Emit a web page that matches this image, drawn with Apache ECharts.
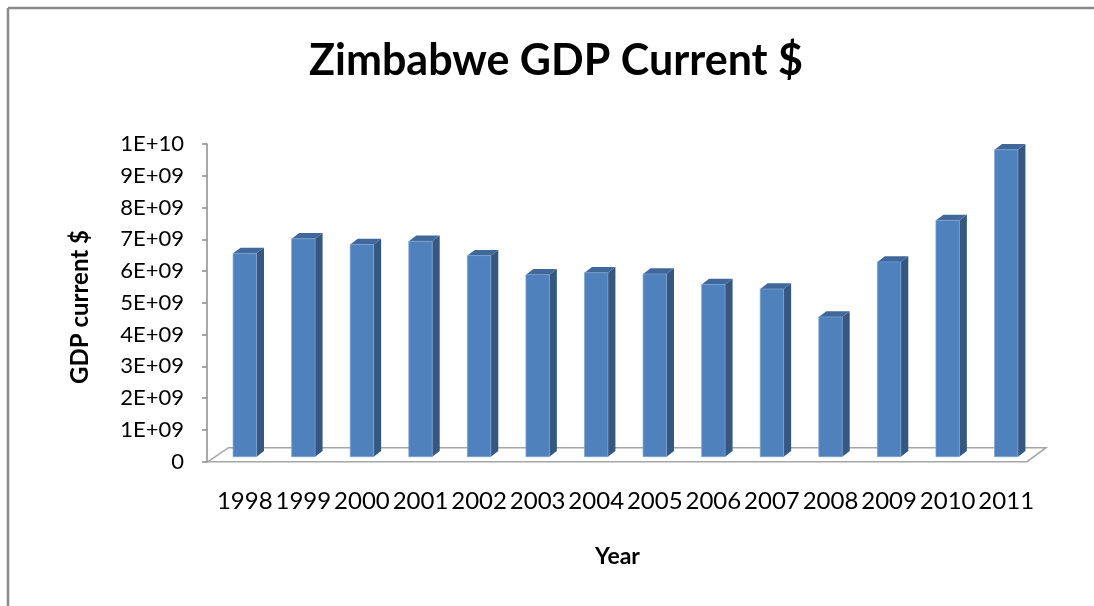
<!DOCTYPE html>
<html>
<head>
<meta charset="utf-8">
<script src="https://cdn.jsdelivr.net/npm/echarts@6/dist/echarts.min.js"></script>
<style>
  html, body { margin: 0; padding: 0; background: #fff; }
  #chart { width: 1094px; height: 606px; }
</style>
</head>
<body>
<div id="chart"></div>
<script>
// Zimbabwe GDP, current US$, 1998-2011
const years = ['1998', '1999', '2000', '2001', '2002', '2003', '2004',
               '2005', '2006', '2007', '2008', '2009', '2010', '2011'];
const gdp = [6.40e9, 6.86e9, 6.68e9, 6.78e9, 6.33e9, 5.73e9, 5.79e9,
             5.75e9, 5.42e9, 5.28e9, 4.40e9, 6.13e9, 7.44e9, 9.66e9];
const yTickLabels = ['0', '1E+09', '2E+09', '3E+09', '4E+09', '5E+09',
                     '6E+09', '7E+09', '8E+09', '9E+09', '1E+10'];

const FONT = 'Lato, "Open Sans", sans-serif';
const FRONT = '#4f81bd';
const SIDE = '#36577f';
const TOP = '#40689a';
// depth of each bar (pseudo 3D extrusion), px
const DX = 7.5, DY = 5.7;

const chart = echarts.init(document.getElementById('chart'), null, { renderer: 'canvas' });

function renderBar(params, api) {
  const i = api.value(0);
  const v = api.value(1);
  const top = api.coord([i, v]);
  const base = api.coord([i, 0]);
  const w = api.size([1, 0])[0] * 0.4;
  const x0 = top[0] - w / 2;
  const x1 = x0 + w;
  const yt = top[1];
  const yb = base[1];
  return {
    type: 'group',
    children: [
      {
        type: 'polygon',
        shape: { points: [[x1, yt], [x1 + DX, yt - DY], [x1 + DX, yb - DY], [x1, yb]] },
        style: { fill: SIDE }
      },
      {
        type: 'polygon',
        shape: { points: [[x0, yt], [x0 + DX, yt - DY], [x1 + DX, yt - DY], [x1, yt]] },
        style: { fill: TOP }
      },
      {
        type: 'rect',
        shape: { x: x0, y: yt, width: w, height: yb - yt },
        style: { fill: FRONT, stroke: '#7ea3d0', lineWidth: 0.7 }
      }
    ]
  };
}

const option = {
  backgroundColor: '#ffffff',
  animation: false,
  grid: [
    // front plane: value axis
    { left: 207, right: 67, top: 144, bottom: 144.3 },
    // plane the bars stand in, set back into the floor
    { left: 215.5, right: 58.5, top: 139, bottom: 149.3 }
  ],
  xAxis: [
    {
      gridIndex: 0, type: 'category', data: years,
      axisLine: { show: false }, axisTick: { show: false },
      axisLabel: { show: false }, splitLine: { show: false }
    },
    {
      gridIndex: 1, type: 'category', data: years,
      axisLine: { show: false }, axisTick: { show: false },
      axisLabel: {
        color: '#000', fontFamily: FONT, fontSize: 24, margin: 33,
        interval: 0
      },
      splitLine: { show: false }
    }
  ],
  yAxis: [
    {
      gridIndex: 0, type: 'value', min: 0, max: 1e10, interval: 1e9,
      axisLine: { show: true, lineStyle: { color: '#8c8c8c', width: 1.5 } },
      axisTick: { show: true, length: 5, lineStyle: { color: '#8c8c8c', width: 1.5 } },
      splitLine: { show: false },
      axisLabel: {
        color: '#000', fontFamily: FONT, fontSize: 22, margin: 23,
        formatter: (val) => yTickLabels[Math.round(val / 1e9)]
      }
    },
    {
      gridIndex: 1, type: 'value', min: 0, max: 1e10, interval: 1e9,
      show: false
    }
  ],
  graphic: [
    // outer chart frame
    { type: 'line', z: 0, shape: { x1: 8, y1: 8, x2: 1094, y2: 8 },
      style: { stroke: '#8a8a8a', lineWidth: 2.5 } },
    { type: 'line', z: 0, shape: { x1: 8, y1: 8, x2: 8, y2: 606 },
      style: { stroke: '#8a8a8a', lineWidth: 2.5 } },
    // floor of the plot
    { type: 'polygon', z: 0,
      shape: { points: [[208, 461.7], [228.5, 447.7], [1046, 447.7], [1027, 461.7]] },
      style: { fill: '#ffffff', stroke: '#a6a6a6', lineWidth: 1.5 } },
    // title
    { type: 'text', z: 5, x: 556, y: 61,
      style: { text: 'Zimbabwe GDP Current $', fill: '#000', font: 'bold 43px ' + FONT,
               align: 'center', verticalAlign: 'middle' } },
    // axis titles
    { type: 'text', z: 5, x: 80, y: 307, rotation: Math.PI / 2,
      style: { text: 'GDP current $', fill: '#000', font: 'bold 24px ' + FONT,
               align: 'center', verticalAlign: 'middle' } },
    { type: 'text', z: 5, x: 617.5, y: 557,
      style: { text: 'Year', fill: '#000', font: 'bold 23px ' + FONT,
               align: 'center', verticalAlign: 'middle' } }
  ],
  series: [
    {
      type: 'custom',
      xAxisIndex: 1, yAxisIndex: 1,
      z: 3,
      renderItem: renderBar,
      encode: { x: 0, y: 1 },
      data: gdp.map((v, i) => [i, v])
    }
  ]
};

chart.setOption(option);
</script>
</body>
</html>
